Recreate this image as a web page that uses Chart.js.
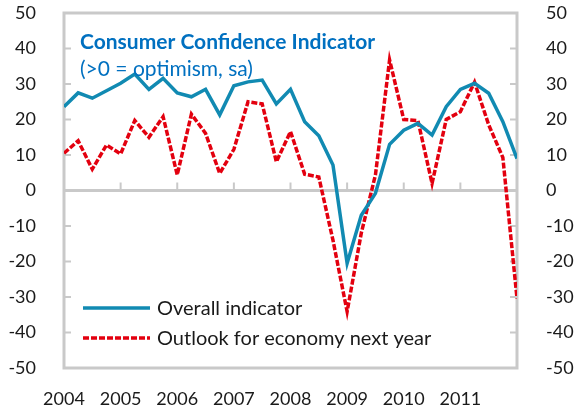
<!DOCTYPE html>
<html>
<head>
<meta charset="utf-8">
<script src="https://cdn.jsdelivr.net/npm/chart.js@4/dist/chart.umd.min.js"></script>
<style>
  html, body { margin: 0; padding: 0; background: #fff; }
  #chart { display: block; }
</style>
</head>
<body>
<canvas id="chart" width="574" height="412"></canvas>
<script>
// quarterly, 2004 Q1 .. 2012 Q1
const years = ["2004", "2005", "2006", "2007", "2008", "2009", "2010", "2011"];
const yTicks = [50, 40, 30, 20, 10, 0, -10, -20, -30, -40, -50];

const overall = [23.6, 27.5, 26, 28.1, 30.2, 32.8, 28.5, 31.6, 27.5, 26.4, 28.5,
  21.3, 29.5, 30.6, 31.1, 24.4, 28.5, 19.4, 15.4, 7.2, -20.5, -7, -0.8, 13,
  17, 18.9, 15.6, 23.6, 28.5, 30.2, 27.4, 19.4, 9];
const outlook = [10.5, 14, 6, 12.8, 10.3, 19.7, 15, 20.8, 4.4, 21.5, 16.1,
  4.8, 11.6, 25, 24.4, 8.1, 16.6, 4.6, 3.8, -14, -34.1, -12, 4.4, 36.8,
  20, 19.7, 2, 20, 22.2, 30.5, 18.5, 9.3, -30.4];

const BLUE = "#118AB2";
const RED = "#E3000F";
const FRAME = "#C9C9C9";
const FONT = "Lato, 'Open Sans', sans-serif";

const toPoints = (arr) => arr.map((v, i) => ({ x: i, y: v }));

// drop the extra room Chart.js keeps for half tick labels
const noPad = (s) => {
  s.paddingTop = 0;
  s.paddingBottom = 0;
  s.paddingLeft = 0;
  s.paddingRight = 0;
};

const framePlugin = {
  id: "frame",
  beforeDatasetsDraw(chart) {
    const { ctx, chartArea: a, scales } = chart;
    ctx.save();
    ctx.strokeStyle = FRAME;
    ctx.lineWidth = 3;
    ctx.strokeRect(a.left, a.top, a.right - a.left, a.bottom - a.top);

    // inward ticks on both y axes
    ctx.lineWidth = 2;
    yTicks.forEach((t) => {
      const y = scales.y.getPixelForValue(t);
      ctx.beginPath();
      ctx.moveTo(a.left, y);
      ctx.lineTo(a.left + 7, y);
      ctx.moveTo(a.right, y);
      ctx.lineTo(a.right - 7, y);
      ctx.stroke();
    });

    // zero line with year ticks
    const y0 = scales.y.getPixelForValue(0);
    ctx.lineWidth = 3;
    ctx.beginPath();
    ctx.moveTo(a.left, y0);
    ctx.lineTo(a.right, y0);
    ctx.stroke();
    ctx.lineWidth = 2;
    for (let i = 4; i < 32; i += 4) {
      const x = scales.x.getPixelForValue(i);
      ctx.beginPath();
      ctx.moveTo(x, y0);
      ctx.lineTo(x, y0 - 8);
      ctx.stroke();
    }
    ctx.restore();
  },
  afterDatasetsDraw(chart) {
    const { ctx } = chart;
    ctx.save();
    ctx.textBaseline = "middle";
    ctx.fillStyle = "#0070C0";
    ctx.font = "bold 21px " + FONT;
    ctx.fillText("Consumer Confidence Indicator", 80, 42);
    ctx.font = "21px " + FONT;
    ctx.fillText("(>0 = optimism, sa)", 80, 69);

    // legend
    const rows = [308, 338];
    chart.data.datasets.forEach((ds, i) => {
      const y = rows[i];
      ctx.strokeStyle = ds.borderColor;
      ctx.lineWidth = ds.borderWidth;
      ctx.setLineDash(ds.borderDash || []);
      ctx.beginPath();
      ctx.moveTo(83, y);
      ctx.lineTo(150, y);
      ctx.stroke();
      ctx.setLineDash([]);
      ctx.fillStyle = "#1a1a1a";
      ctx.font = "20px " + FONT;
      ctx.fillText(ds.label, 157, y + 1);
    });
    ctx.restore();
  },
};

const tickFont = { family: FONT, size: 18 };

new Chart(document.getElementById("chart"), {
  type: "line",
  data: {
    datasets: [
      {
        label: "Overall indicator",
        data: toPoints(overall),
        borderColor: BLUE,
        borderWidth: 3.5,
        pointRadius: 0,
        tension: 0,
      },
      {
        label: "Outlook for economy next year",
        data: toPoints(outlook),
        borderColor: RED,
        borderWidth: 3.5,
        borderDash: [6, 2],
        pointRadius: 0,
        tension: 0,
      },
    ],
  },
  options: {
    responsive: false,
    animation: false,
    layout: { padding: { top: 13, left: 0, right: 0, bottom: 0 } },
    plugins: { legend: { display: false }, tooltip: { enabled: false } },
    scales: {
      x: {
        type: "linear",
        min: 0,
        max: 32,
        afterFit: (s) => { s.height = 44; noPad(s); },
        afterBuildTicks: (s) => {
          s.ticks = years.map((_, i) => ({ value: i * 4 }));
        },
        ticks: {
          font: tickFont,
          color: "#1a1a1a",
          padding: 12,
          maxRotation: 0,
          callback: (v) => years[v / 4],
        },
        grid: { display: false },
        border: { display: false },
      },
      y: {
        position: "left",
        min: -50,
        max: 50,
        afterFit: (s) => { s.width = 64; noPad(s); },
        ticks: { stepSize: 10, font: tickFont, color: "#1a1a1a", padding: 20 },
        grid: { display: false },
        border: { display: false },
      },
      y2: {
        position: "right",
        min: -50,
        max: 50,
        afterFit: (s) => { s.width = 57; noPad(s); },
        ticks: { stepSize: 10, font: tickFont, color: "#1a1a1a", padding: 21 },
        grid: { display: false },
        border: { display: false },
      },
    },
  },
  plugins: [framePlugin],
});
</script>
</body>
</html>
